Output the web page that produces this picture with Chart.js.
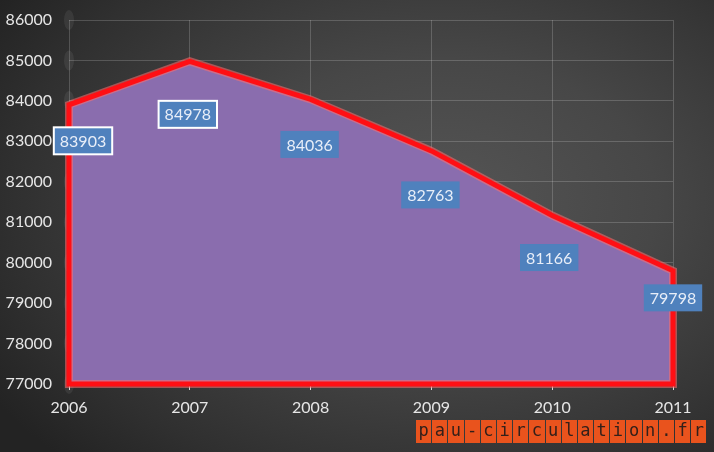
<!DOCTYPE html>
<html>
<head>
<meta charset="utf-8">
<script src="https://cdn.jsdelivr.net/npm/chart.js@4/dist/chart.umd.min.js"></script>
<style>
  html, body { margin:0; padding:0; }
  body {
    width:714px; height:452px; overflow:hidden; position:relative;
    background: radial-gradient(ellipse 75% 80% at 62% 45%, #555555 0%, #474747 40%, #303030 80%, #232323 100%);
  }
  #wrap { position:absolute; left:0; top:0; width:714px; height:452px; }
  #wm { position:absolute; left:416px; top:420px; display:flex; gap:1px; }
  #wm span {
    display:block; width:15.2px; height:23px; background:#e9531d;
    color:#33201a; font:17px "DejaVu Sans Mono", monospace; line-height:21px; text-align:center;
  }
</style>
</head>
<body>
<div id="wrap"><canvas id="c" width="714" height="452"></canvas></div>
<div id="wm"></div>
<script>
const years = ['2006', '2007', '2008', '2009', '2010', '2011'];
const population = [83903, 84978, 84036, 82763, 81166, 79798];
const yMin = 77000, yMax = 86000, yStep = 1000;
const watermark = 'pau-circulation.fr';

const wm = document.getElementById('wm');
for (const ch of watermark) { const s = document.createElement('span'); s.textContent = ch; wm.appendChild(s); }

const FONT = 'Lato, "Liberation Sans", sans-serif';

// label placement offsets (style) relative to each point
const labelDX = [14, -2, -1, -1, -3, 0];
const labelDY = [36, 53, 45, 44, 42, 27];
const labelBorder = [true, true, false, false, false, false];

const outlinePlugin = {
  id: 'outline',
  beforeDatasetsDraw(chart) {
    const ctx = chart.ctx, y = chart.scales.y, x = chart.scales.x;
    ctx.save();
    ctx.fillStyle = 'rgba(255,255,255,0.07)';
    for (let v = yMin; v <= yMax; v += yStep) {
      ctx.beginPath();
      ctx.ellipse(x.left, y.getPixelForValue(v), 5, 10, 0, 0, Math.PI * 2);
      ctx.fill();
    }
    ctx.restore();
  },
  afterDatasetsDraw(chart) {
    const ctx = chart.ctx;
    const meta = chart.getDatasetMeta(0);
    const bottom = chart.scales.y.getPixelForValue(yMin);
    const pts = meta.data;
    const path = () => {
      ctx.beginPath();
      ctx.moveTo(pts[0].x, bottom);
      pts.forEach(p => ctx.lineTo(p.x, p.y));
      ctx.lineTo(pts[pts.length - 1].x, bottom);
      ctx.closePath();
    };
    ctx.save();
    ctx.lineJoin = 'miter';
    path(); ctx.strokeStyle = 'rgba(255,110,110,0.55)'; ctx.lineWidth = 8; ctx.stroke();
    path(); ctx.strokeStyle = '#ff0f14'; ctx.lineWidth = 5; ctx.stroke();
    ctx.restore();

    // data labels
    ctx.save();
    ctx.font = '16px ' + FONT;
    ctx.textAlign = 'center';
    ctx.textBaseline = 'middle';
    pts.forEach((p, i) => {
      const txt = String(population[i]);
      const cx = p.x + labelDX[i], cy = p.y + labelDY[i];
      const w = ctx.measureText(txt).width + 12, h = 27;
      ctx.fillStyle = '#4f81bd';
      ctx.fillRect(cx - w / 2, cy - h / 2, w, h);
      if (labelBorder[i]) {
        ctx.strokeStyle = '#ffffff'; ctx.lineWidth = 2;
        ctx.strokeRect(cx - w / 2, cy - h / 2, w, h);
      }
      ctx.fillStyle = '#e8eef8';
      ctx.fillText(txt, cx, cy + 1);
    });
    ctx.restore();
  }
};

new Chart(document.getElementById('c'), {
  type: 'line',
  data: {
    labels: years,
    datasets: [{
      data: population,
      fill: 'start',
      backgroundColor: '#8a6dae',
      borderWidth: 0,
      pointRadius: 0,
      tension: 0
    }]
  },
  options: {
    responsive: false,
    animation: false,
    devicePixelRatio: 1,
    layout: { padding: { top: 20, right: 41, left: 0, bottom: 0 } },
    plugins: { legend: { display: false }, tooltip: { enabled: false } },
    scales: {
      x: {
        offset: false,
        grid: { color: 'rgba(255,255,255,0.18)', tickColor: '#d8d8d8', tickLength: 6, lineWidth: 1 },
        border: { display: false },
        ticks: { color: '#e6e6e6', font: { family: FONT, size: 16 }, padding: 8, maxRotation: 0 },
        afterFit(s) { s.height = 68; s.paddingLeft = 0; s.paddingRight = 0; }
      },
      y: {
        min: yMin, max: yMax,
        grid: { color: 'rgba(255,255,255,0.18)', drawTicks: false, lineWidth: 1 },
        border: { display: false },
        ticks: {
          stepSize: yStep, color: '#e6e6e6', font: { family: FONT, size: 16 }, padding: 17,
          callback: v => String(v)
        },
        afterFit(s) { s.width = 69; s.paddingTop = 0; s.paddingBottom = 0; }
      }
    }
  },
  plugins: [outlinePlugin]
});
</script>
</body>
</html>
